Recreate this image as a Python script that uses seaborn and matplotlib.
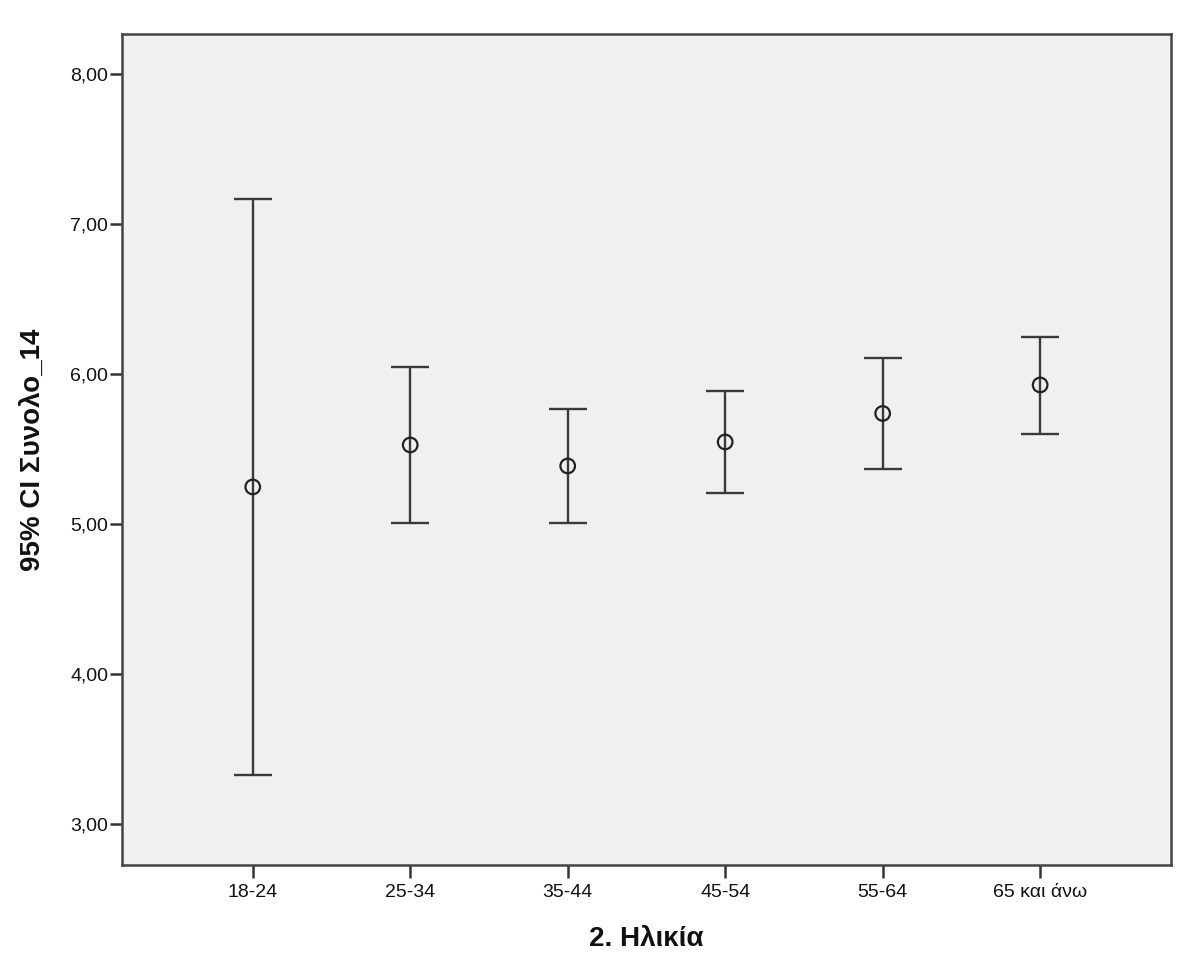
# error bar chart: 95% CI of Συνολο_14 by age group (SPSS style)
import matplotlib
matplotlib.use('Agg')
import matplotlib.pyplot as plt
import seaborn as sns
import pandas as pd

# values
age_groups = ['18-24', '25-34', '35-44', '45-54', '55-64', '65 και άνω']
means = [5.25, 5.53, 5.39, 5.55, 5.74, 5.93]
ci_low = [3.33, 5.01, 5.01, 5.21, 5.37, 5.60]
ci_high = [7.17, 6.05, 5.77, 5.89, 6.11, 6.25]
y_ticks = [3, 4, 5, 6, 7, 8]
y_tick_labels = ['3,00', '4,00', '5,00', '6,00', '7,00', '8,00']

df = pd.DataFrame({'age': age_groups, 'mean': means, 'low': ci_low, 'high': ci_high})

sns.set_style('ticks')
plt.rcParams['font.family'] = ['Liberation Sans', 'DejaVu Sans']

fig = plt.figure(figsize=(12, 9.72), dpi=100)
ax = fig.add_axes([0.1017, 0.1101, 0.874, 0.855])
ax.set_facecolor('#f0f0f0')

# error bars (precomputed CI)
pos = list(range(len(df)))
ax.errorbar(pos, df['mean'],
            yerr=[df['mean'] - df['low'], df['high'] - df['mean']],
            fmt='none', ecolor='#3a3a3a', elinewidth=1.7, capsize=13.5, capthick=1.7,
            zorder=2)

# means as open circles
sns.scatterplot(x=pos, y=df['mean'], ax=ax, marker='o', s=110,
                facecolor='none', edgecolor='#222222', linewidth=1.6, zorder=3)

ax.set_xlim(-0.83, 5.83)
ax.set_ylim(2.73, 8.27)
ax.set_xticks(pos)
ax.set_xticklabels(df['age'])
ax.set_yticks(y_ticks)
ax.set_yticklabels(y_tick_labels)

for sp in ax.spines.values():
    sp.set_visible(True)
    sp.set_color('#444444')
    sp.set_linewidth(1.8)

ax.tick_params(axis='both', direction='out', length=9, width=1.8, color='#333333',
               labelsize=14, labelcolor='#111111')
ax.tick_params(axis='x', pad=5)
ax.tick_params(axis='y', pad=1)

ax.set_xlabel('2. Ηλικία', fontsize=20, fontweight='bold', color='#111111')
ax.set_ylabel('95% CI Συνολο_14', fontsize=20, fontweight='bold', color='#111111')
ax.xaxis.set_label_coords(0.5, -0.073)
ax.yaxis.set_label_coords(-0.073, 0.5)

fig.savefig('out.png', dpi=100)
